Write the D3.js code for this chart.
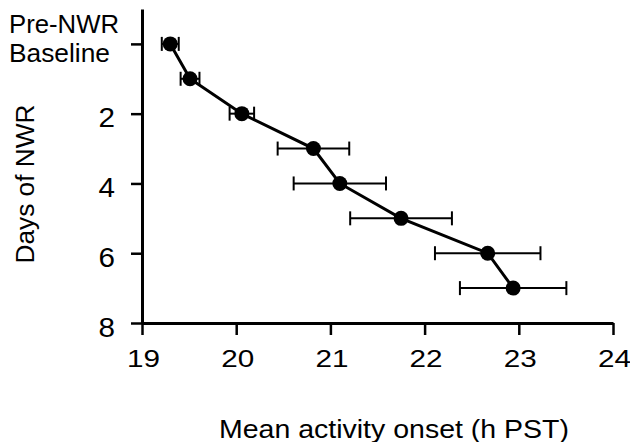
<!DOCTYPE html>
<html>
<head>
<meta charset="utf-8">
<script src="https://cdnjs.cloudflare.com/ajax/libs/d3/7.8.5/d3.min.js"></script>
<style>
    body { margin: 0; background: #fff; }
    svg { display: block; }
    text { font-family: "Liberation Sans", Arial, sans-serif; fill: #000; }
</style>
</head>
<body>
<div id="chart"></div>
<script>
'use strict';
// days of NWR (0 = pre-NWR baseline)
var days = [0, 1, 2, 3, 4, 5, 6, 7];
// mean activity onset, h PST
var onset = [19.30, 19.51, 20.06, 20.82, 21.10, 21.75, 22.67, 22.94];
// error (+/-), h
var onsetErr = [0.09, 0.10, 0.13, 0.38, 0.49, 0.54, 0.56, 0.565];
var xTicks = [19, 20, 21, 22, 23, 24];
var yTicks = [0, 2, 4, 6, 8];
var baselineLabel = ['Pre-NWR', 'Baseline'];

var width = 630,
    height = 442;

var svg = d3.select('#chart').append('svg')
    .attr('width', width)
    .attr('height', height);

var x = d3.scaleLinear().domain([19, 24]).range([142, 613]);
var y = d3.scaleLinear().domain([-1, 8]).range([9, 323]);

var points = days.map(function (d, i) {
    return { day: d, onset: onset[i], err: onsetErr[i] };
});

// the original lettering is a bit wider than Arial, so stretch it
var stretch = function (sel, len) {
    sel.attr('textLength', len).attr('lengthAdjust', 'spacingAndGlyphs');
};

// x axis
var xAxis = svg.append('g')
    .attr('transform', 'translate(0,' + y(8) + ')')
    .call(d3.axisBottom(x).tickValues(xTicks).tickSize(12).tickSizeOuter(0).tickFormat(d3.format('d')));
xAxis.select('.domain').attr('stroke-width', 3);
xAxis.selectAll('.tick line').attr('stroke-width', 2.5);
xAxis.selectAll('.tick text')
    .attr('y', 44)
    .attr('dy', null)
    .attr('dx', 1)
    .style('font-size', '24px')
    .call(stretch, 33);

// y axis
var yAxis = svg.append('g')
    .attr('transform', 'translate(' + x(19) + ',0)')
    .call(d3.axisLeft(y).tickValues(yTicks).tickSize(11).tickSizeOuter(0)
        .tickFormat(function (d) { return d === 0 ? '' : d; }));
yAxis.select('.domain').attr('stroke-width', 3);
yAxis.selectAll('.tick line').attr('stroke-width', 2.5);
yAxis.selectAll('.tick text')
    .filter(function (d) { return d !== 0; })
    .attr('x', -27)
    .attr('dy', null)
    .attr('y', 13)
    .style('font-size', '27px')
    .call(stretch, 16.5);

// two-line label for the baseline day
svg.append('g').selectAll('text').data(baselineLabel)
    .enter().append('text')
    .attr('x', 9)
    .attr('y', function (d, i) { return 33 + i * 29; })
    .style('font-size', '26px')
    .attr('textLength', function (d, i) { return i === 0 ? 110 : 101; })
    .attr('lengthAdjust', 'spacingAndGlyphs')
    .text(function (d) { return d; });

// connecting line
svg.append('path')
    .datum(points)
    .attr('fill', 'none')
    .attr('stroke', '#000')
    .attr('stroke-width', 3)
    .attr('d', d3.line()
        .x(function (d) { return x(d.onset); })
        .y(function (d) { return y(d.day); }));

// error bars
var bars = svg.append('g').selectAll('g.err').data(points)
    .enter().append('g')
    .attr('class', 'err')
    .attr('stroke', '#000')
    .attr('stroke-width', 2);
bars.append('line')
    .attr('x1', function (d) { return x(d.onset - d.err); })
    .attr('x2', function (d) { return x(d.onset + d.err); })
    .attr('y1', function (d) { return y(d.day); })
    .attr('y2', function (d) { return y(d.day); });
bars.append('line')
    .attr('x1', function (d) { return x(d.onset - d.err); })
    .attr('x2', function (d) { return x(d.onset - d.err); })
    .attr('y1', function (d) { return y(d.day) - 7; })
    .attr('y2', function (d) { return y(d.day) + 7; });
bars.append('line')
    .attr('x1', function (d) { return x(d.onset + d.err); })
    .attr('x2', function (d) { return x(d.onset + d.err); })
    .attr('y1', function (d) { return y(d.day) - 7; })
    .attr('y2', function (d) { return y(d.day) + 7; });

// dots
svg.append('g').selectAll('circle').data(points)
    .enter().append('circle')
    .attr('cx', function (d) { return x(d.onset); })
    .attr('cy', function (d) { return y(d.day); })
    .attr('r', 7.5)
    .attr('fill', '#000');

// axis titles
svg.append('text')
    .attr('transform', 'translate(34,184) rotate(-90)')
    .attr('text-anchor', 'middle')
    .style('font-size', '26px')
    .call(stretch, 159)
    .text('Days of NWR');

svg.append('text')
    .attr('x', 394)
    .attr('y', 438)
    .attr('text-anchor', 'middle')
    .style('font-size', '25px')
    .call(stretch, 350)
    .text('Mean activity onset (h PST)');
</script>
</body>
</html>
